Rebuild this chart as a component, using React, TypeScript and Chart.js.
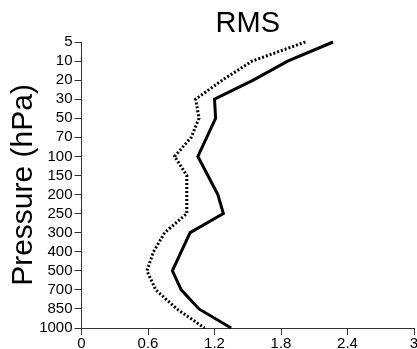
import React, { useEffect, useRef } from 'react';
import { Chart, registerables } from 'chart.js';

Chart.register(...registerables);

const levels = ['5', '10', '20', '30', '50', '70', '100', '150', '200', '250', '300', '400', '500', '700', '850', '1000'];
const solidRms = [2.27, 1.86, 1.55, 1.2, 1.21, 1.13, 1.05, 1.14, 1.23, 1.28, 0.98, 0.9, 0.82, 0.9, 1.06, 1.35];
const dottedRms = [2.02, 1.54, 1.27, 1.03, 1.06, 0.99, 0.84, 0.95, 0.95, 0.95, 0.75, 0.65, 0.59, 0.67, 0.86, 1.11];
const xTickValues = [0, 0.6, 1.2, 1.8, 2.4, 3];
const chartTitle = 'RMS';
const yTitle = 'Pressure (hPa)';

const FONT = "'Liberation Sans', Arial, Helvetica, sans-serif";

export default function App() {
  const ref = useRef<HTMLCanvasElement>(null);

  useEffect(() => {
    if (!ref.current) return;
    const chart = new Chart(ref.current, {
      type: 'line',
      data: {
        labels: levels,
        datasets: [
          {
            label: 'solid',
            data: levels.map((l, i) => ({ x: solidRms[i], y: l })),
            borderColor: '#000',
            borderWidth: 3,
            pointRadius: 0,
            fill: false,
            tension: 0,
            xAxisID: 'x',
            yAxisID: 'y',
          },
          {
            label: 'dotted',
            data: levels.map((l, i) => ({ x: dottedRms[i], y: l })),
            borderColor: '#000',
            borderWidth: 3,
            borderDash: [2, 2],
            pointRadius: 0,
            fill: false,
            tension: 0,
            xAxisID: 'x',
            yAxisID: 'y',
          },
        ],
      } as any,
      options: {
        animation: false,
        responsive: false,
        indexAxis: 'y',
        layout: { padding: { left: 4, right: 3, top: 0, bottom: 0 } },
        plugins: {
          legend: { display: false },
          tooltip: { enabled: false },
          title: { display: false },
        },
        scales: {
          x: {
            type: 'linear',
            position: 'bottom',
            min: 0,
            max: 3,
            afterBuildTicks: (s: any) => {
              s.ticks = xTickValues.map((v) => ({ value: v }));
            },
            afterFit: (s: any) => {
              s.height = 21;
              s.paddingRight = 0;
              s.paddingLeft = 0;
            },
            ticks: {
              padding: 0,
              color: '#000',
              font: { family: FONT, size: 15 },
              maxRotation: 0,
              autoSkip: false,
              callback: (v: any) => String(v),
            },
            grid: { drawOnChartArea: false, drawTicks: true, tickLength: 7, color: '#333' },
            border: { display: true, color: '#333', width: 1 },
          },
          xTop: {
            type: 'linear',
            position: 'top',
            min: 0,
            max: 3,
            afterFit: (s: any) => {
              s.height = 42;
              s.paddingRight = 0;
              s.paddingLeft = 0;
            },
            ticks: { display: false },
            grid: { display: false, drawTicks: false },
            border: { display: false },
            title: {
              display: true,
              text: chartTitle,
              color: '#000',
              font: { family: FONT, size: 29, weight: 'normal' },
              padding: { top: 7, bottom: 0 },
            },
          },
          y: {
            type: 'category',
            labels: levels,
            offset: false,
            afterFit: (s: any) => {
              s.width = 77.5;
              s.paddingTop = 0;
              s.paddingBottom = 0;
            },
            title: {
              display: true,
              text: yTitle,
              color: '#000',
              font: { family: FONT, size: 30, weight: 'normal' },
              padding: { top: 2, bottom: 0 },
            },
            ticks: {
              padding: 2,
              autoSkip: false,
              color: '#000',
              font: { family: FONT, size: 15 },
            },
            grid: { drawOnChartArea: false, drawTicks: true, tickLength: 7, color: '#333' },
            border: { display: true, color: '#333', width: 1 },
          },
        },
      } as any,
    });
    return () => chart.destroy();
  }, []);

  return (
    <div style={{ position: 'fixed', left: 0, top: 0, width: 417, height: 349, overflow: 'hidden', background: '#fff' }}>
      <canvas ref={ref} width={417} height={349} style={{ width: 417, height: 349, display: 'block' }} />
    </div>
  );
}
